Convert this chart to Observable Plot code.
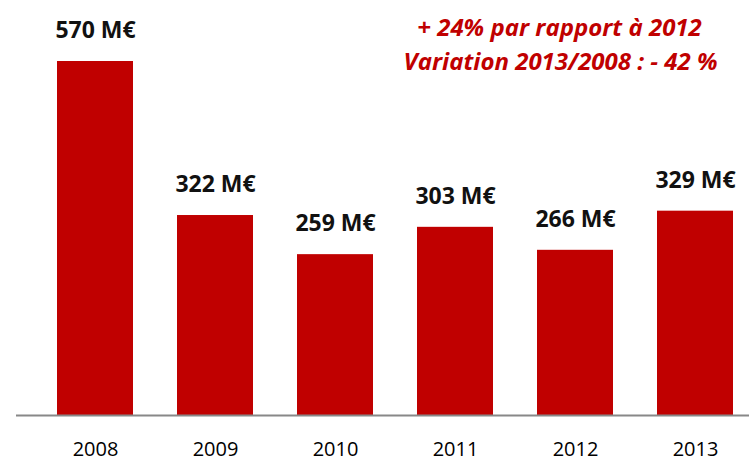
<!DOCTYPE html>
<html><head><meta charset="utf-8">
<script src="https://cdn.jsdelivr.net/npm/d3@7"></script>
<script src="https://cdn.jsdelivr.net/npm/@observablehq/plot@0.6"></script>
<style>
body{margin:0;background:#fff;}
#chart{position:relative;width:749px;height:461px;}
</style></head>
<body><div id="chart"></div>
<script>
const years = ["2008","2009","2010","2011","2012","2013"];
const values = [570, 322, 259, 303, 266, 329];
const valueLabels = ["570 M€","322 M€","259 M€","303 M€","266 M€","329 M€"];
const note1 = "+ 24% par rapport à 2012";
const note2 = "Variation 2013/2008 : - 42 %";

const data = years.map((y, i) => ({year: y, value: values[i], label: valueLabels[i]}));
const red = "#c00000";
const font = "'Open Sans', sans-serif";

const chart = Plot.plot({
  width: 749,
  height: 461,
  marginTop: 61,
  marginBottom: 46,
  marginLeft: 56,
  marginRight: 15,
  style: {fontFamily: font, background: "white"},
  x: {domain: years, paddingInner: 0.37, paddingOuter: 0},
  y: {domain: [0, 570], axis: null},
  marks: [
    Plot.barY(data, {x: "year", y: "value", fill: red}),
    Plot.ruleY([0], {stroke: "#888", strokeWidth: 2, insetLeft: -40, insetRight: -15}),
    Plot.axisX({tickSize: 0, tickPadding: 26, fontSize: 20, fill: "#000", label: null}),
    Plot.text(data, {x: "year", y: "value", text: "label", dy: -31, fontSize: 23, fontWeight: "bold", fill: "#111"}),
    Plot.text([note1], {frameAnchor: "top", text: d => d, dx: 164, dy: -43, fontSize: 24, fontWeight: "bold", fontStyle: "italic", fill: red}),
    Plot.text([note2], {frameAnchor: "top", text: d => d, dx: 165, dy: -9, fontSize: 24, fontWeight: "bold", fontStyle: "italic", fill: red})
  ]
});
document.getElementById("chart").appendChild(chart);
</script></body></html>
